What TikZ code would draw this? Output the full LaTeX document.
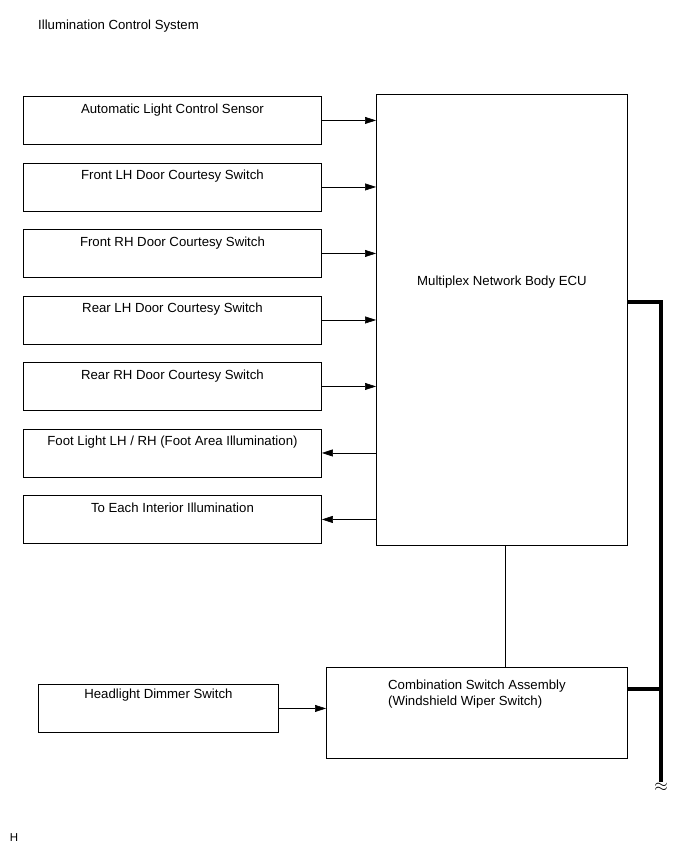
\documentclass[tikz,border=0pt]{standalone}
\usepackage{fontspec}
\setmainfont{Liberation Sans}
\usetikzlibrary{arrows.meta}
\tikzset{
  unitbox/.style={draw, line width=0.9pt, anchor=north west, minimum width=298pt, inner sep=0pt, text height=17pt, text depth=31pt},
  sig/.style={line width=0.6pt, -{Triangle[length=11pt,width=7pt]}},
  bus/.style={line width=3.5pt},
}
\begin{document}
\begin{tikzpicture}[x=1pt,y=-1pt,font=\fontsize{13.2}{16}\selectfont]
\useasboundingbox (0,0) rectangle (691,855);
\node[anchor=base west, inner sep=0pt] (title) at (38,29) {Illumination Control System};
% body ECU
\node[draw, line width=0.9pt, anchor=north west, minimum width=251pt, inner sep=0pt, text height=191pt, text depth=260pt] (ecu) at (376,94) {Multiplex Network Body ECU};
% left column
\foreach \i/\name/\txt in {1/alc/{Automatic Light Control Sensor}, 2/flcs/{Front LH Door Courtesy Switch}, 3/frcs/{Front RH Door Courtesy Switch}, 4/rlcs/{Rear LH Door Courtesy Switch}, 5/rrcs/{Rear RH Door Courtesy Switch}, 6/foot/{Foot Light LH / RH (Foot Area Illumination)}, 7/inter/{To Each Interior Illumination}}
  \node[unitbox] (\name) at (23,{96+66.5*(\i-1)}) {\txt};
\foreach \name in {alc,flcs,frcs,rlcs,rrcs}
  \draw[sig] (\name.east) -- (\name.east -| ecu.west);
\foreach \name in {foot,inter}
  \draw[sig] (\name.east -| ecu.west) -- (\name.east);
% switches
\node[unitbox, minimum width=240pt, text height=14pt, text depth=34pt] (dim) at (38,684) {Headlight Dimmer Switch};
\node[draw, line width=0.9pt, anchor=north west, minimum width=301pt, inner sep=0pt, text height=38pt, text depth=53pt, align=left] (combo) at (326,667) {Combination Switch Assembly\\(Windshield Wiper Switch)};
\draw[sig] (dim.east) -- (dim.east -| combo.west);
\draw[line width=0.9pt] ([xshift=3.5pt]ecu.south) -- ([xshift=3.5pt]ecu.south |- combo.north);
% bus
\coordinate (bustop) at (661,302);
\coordinate (busmid) at (661,689);
\coordinate (busend) at (661,782);
\draw[bus] (ecu.east |- bustop) -- (bustop) -- (busend);
\draw[bus] (combo.east |- busmid) -- (busmid);
\node[inner sep=0pt, font=\fontsize{17}{17}\selectfont] (brk) at (661,787) {$\approx$};
\node[font=\fontsize{11.5}{13}\selectfont] (mark) at (14,838) {H};
\end{tikzpicture}
\end{document}
